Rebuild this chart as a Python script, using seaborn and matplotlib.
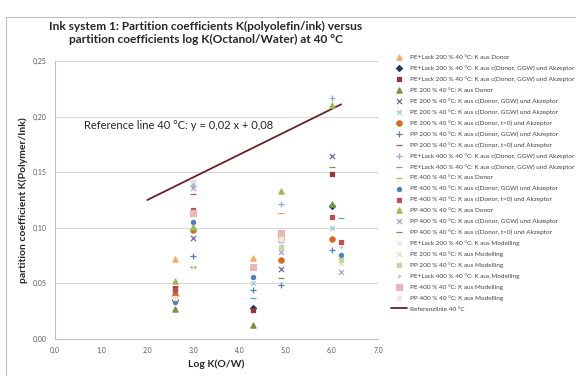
import pandas as pd
import seaborn as sns
import matplotlib.pyplot as plt
from matplotlib.patches import Rectangle
from matplotlib.ticker import FuncFormatter

# series labels, marker and colour per series
labels = [
    'PE+Lack 200 % 40 °C: K aus Donor',
    'PE+Lack 200 % 40 °C: K aus c(Donor, GGW) und Akzeptor',
    'PE+Lack 200 % 40 °C: K aus c(Donor, GGW) und Akzeptor',
    'PE 200 % 40 °C: K aus Donor',
    'PE 200 % 40 °C: K aus c(Donor, GGW) und Akzeptor',
    'PE 200 % 40 °C: K aus c(Donor, GGW) und Akzeptor',
    'PE 200 % 40 °C: K aus c(Donor, t=0) und Akzeptor',
    'PP 200 % 40 °C: K aus c(Donor, GGW) und Akzeptor',
    'PP 200 % 40 °C: K aus c(Donor, t=0) und Akzeptor',
    'PE+Lack 400 % 40 °C: K aus c(Donor, GGW) und Akzeptor',
    'PE+Lack 400 % 40 °C: K aus c(Donor, GGW) und Akzeptor',
    'PE 400 % 40 °C: K aus Donor',
    'PE 400 % 40 °C: K aus c(Donor, GGW) und Akzeptor',
    'PE 400 % 40 °C: K aus c(Donor, t=0) und Akzeptor',
    'PP 400 % 40 °C: K aus Donor',
    'PP 400 % 40 °C: K aus c(Donor, GGW) und Akzeptor',
    'PP 400 % 40 °C: K aus c(Donor, t=0) und Akzeptor',
    'PE+Lack 200 % 40 °C: K aus Modelling',
    'PE 200 % 40 °C: K aus Modelling',
    'PP 200 % 40 °C: K aus Modelling',
    'PE+Lack 400 % 40 °C: K aus Modelling',
    'PE 400 % 40 °C: K aus Modelling',
    'PP 400 % 40 °C: K aus Modelling',
]
markers = ['^', 'D', 's', '^', 'x', 'x', 'o', '+', '_', '+', '_', '_',
           'o', 's', '^', 'x', '_', 'x', 'x', 's', '+', 's', 's']
colors = ['#F9A86B', '#1F3864', '#953735', '#77933C', '#8064A2', '#93CDDD',
          '#D2691E', '#4F81BD', '#C0504D', '#8EA9DB', '#4BACC6', '#F79646',
          '#4F81BD', '#C0504D', '#9BBB59', '#B3A2C7', '#77933C', '#F2DCDB',
          '#D7E4BD', '#C3D69B', '#B7C7E8', '#E6B9B8', '#FCE4D6']
sizes = [14, 9, 12, 14, 14, 11, 14, 16, 14, 14, 14, 14,
         9, 12, 14, 14, 14, 12, 12, 11, 11, 14, 12]

# log K(O/W) and K values per series
xs = [
    [2.6, 4.3],
    [2.6, 4.3, 6.0],
    [2.6, 4.3, 6.0],
    [2.6, 4.3, 6.0],
    [3.0, 4.9, 6.0],
    [3.0, 4.3, 6.0],
    [2.6, 3.0, 4.9, 6.0],
    [3.0, 4.3, 4.9, 6.0],
    [2.6, 3.0, 4.3],
    [3.0, 4.9, 6.0],
    [4.3, 4.9, 6.2],
    [3.0, 4.9],
    [2.6, 3.0, 4.3, 6.2],
    [2.6, 3.0, 6.0, 6.2],
    [2.6, 3.0, 4.9, 6.0],
    [3.0, 4.9, 6.2],
    [3.0, 4.9, 6.0],
    [3.0, 4.3],
    [3.0, 6.2],
    [4.9, 6.2],
    [4.9, 6.2],
    [3.0, 4.3, 4.9, 4.9],
    [2.6, 4.9],
]
ys = [
    [0.072, 0.073],
    [0.035, 0.028, 0.120],
    [0.045, 0.026, 0.148],
    [0.027, 0.013, 0.121],
    [0.091, 0.063, 0.165],
    [0.140, 0.050, 0.100],
    [0.040, 0.098, 0.071, 0.090],
    [0.075, 0.044, 0.049, 0.080],
    [0.048, 0.130, 0.063],
    [0.138, 0.121, 0.217],
    [0.037, 0.0875, 0.109],
    [0.112, 0.113],
    [0.033, 0.105, 0.056, 0.0755],
    [0.044, 0.116, 0.110, 0.0875],
    [0.052, 0.101, 0.133, 0.210],
    [0.136, 0.078, 0.0605],
    [0.065, 0.055, 0.155],
    [0.142, 0.065],
    [0.065, 0.068],
    [0.083, 0.071],
    [0.0875, 0.083],
    [0.113, 0.065, 0.095, 0.092],
    [0.037, 0.090],
]

ref_x = [2.0, 6.2]
ref_y = [0.125, 0.211]

sns.set_style('white')
plt.rcParams['font.family'] = ['Lato', 'DejaVu Sans']

fig = plt.figure(figsize=(5.76, 3.76), dpi=100)
ax = fig.add_axes([55 / 576, 1 - 339 / 376, 323 / 576, 278 / 376])

for lab, m, c, s, x, y in zip(labels, markers, colors, sizes, xs, ys):
    df = pd.DataFrame({'x': x, 'y': y})
    kw = dict(edgecolor=c) if m in ('^', 'D', 's', 'o') else {}
    sns.scatterplot(data=df, x='x', y='y', marker=m, color=c, s=s,
                    linewidth=0.9, label=lab, ax=ax, zorder=3, **kw)

sns.lineplot(x=ref_x, y=ref_y, color='#632523', linewidth=1.3,
             label='Referenzlinie 40 °C', ax=ax, zorder=2)

ax.text(0.63, 0.192, 'Reference line 40 °C: y = 0,02 x + 0,08',
        fontsize=8, color='#262626', va='center')

ax.set_xlim(0, 7)
ax.set_ylim(0, 0.25)
ax.set_xticks([0, 1, 2, 3, 4, 5, 6, 7])
ax.set_yticks([0, 0.05, 0.1, 0.15, 0.2, 0.25])
ax.xaxis.set_major_formatter(FuncFormatter(lambda v, p: f'{v:.1f}'.replace('.', ',')))
ax.yaxis.set_major_formatter(FuncFormatter(lambda v, p: f'{v:.2f}'.replace('.', ',')))
ax.tick_params(axis='both', labelsize=5, colors='#595959', length=3,
               width=0.6, direction='out', pad=3)
ax.tick_params(axis='both', color='#BFBFBF')
ax.grid(axis='y', color='#D9D9D9', linewidth=0.8)
ax.set_axisbelow(True)
for side in ['top', 'right']:
    ax.spines[side].set_visible(False)
for side in ['left', 'bottom']:
    ax.spines[side].set_color('#BFBFBF')
    ax.spines[side].set_linewidth(0.8)

ax.set_xlabel('Log K(O/W)', fontsize=7.5, fontweight='bold', color='#262626', labelpad=4)
ax.set_ylabel('partition coefficient K(Polymer/Ink)', fontsize=7.5,
              fontweight='bold', color='#262626', labelpad=3)

fig.text(206 / 576, 1 - 33 / 376,
         'Ink system 1: Partition coefficients K(polyolefin/ink) versus\n'
         'partition coefficients log K(Octanol/Water) at 40 °C',
         ha='center', va='center', fontsize=8.6, fontweight='bold',
         color='#262626', linespacing=1.2)

ax.legend(loc='upper left', bbox_to_anchor=(388 / 576, 1 - 52 / 376),
          bbox_transform=fig.transFigure, frameon=False, fontsize=4.6,
          labelspacing=0.83, handlelength=2.6, handletextpad=0.5,
          borderaxespad=0, labelcolor='#404040')

fig.patches.append(Rectangle((6 / 576, -0.05), 1.0, 1 - 17 / 376 + 0.05,
                             transform=fig.transFigure, fill=False,
                             edgecolor='#BFBFBF', linewidth=0.8))

fig.savefig('out.png', dpi=100)
